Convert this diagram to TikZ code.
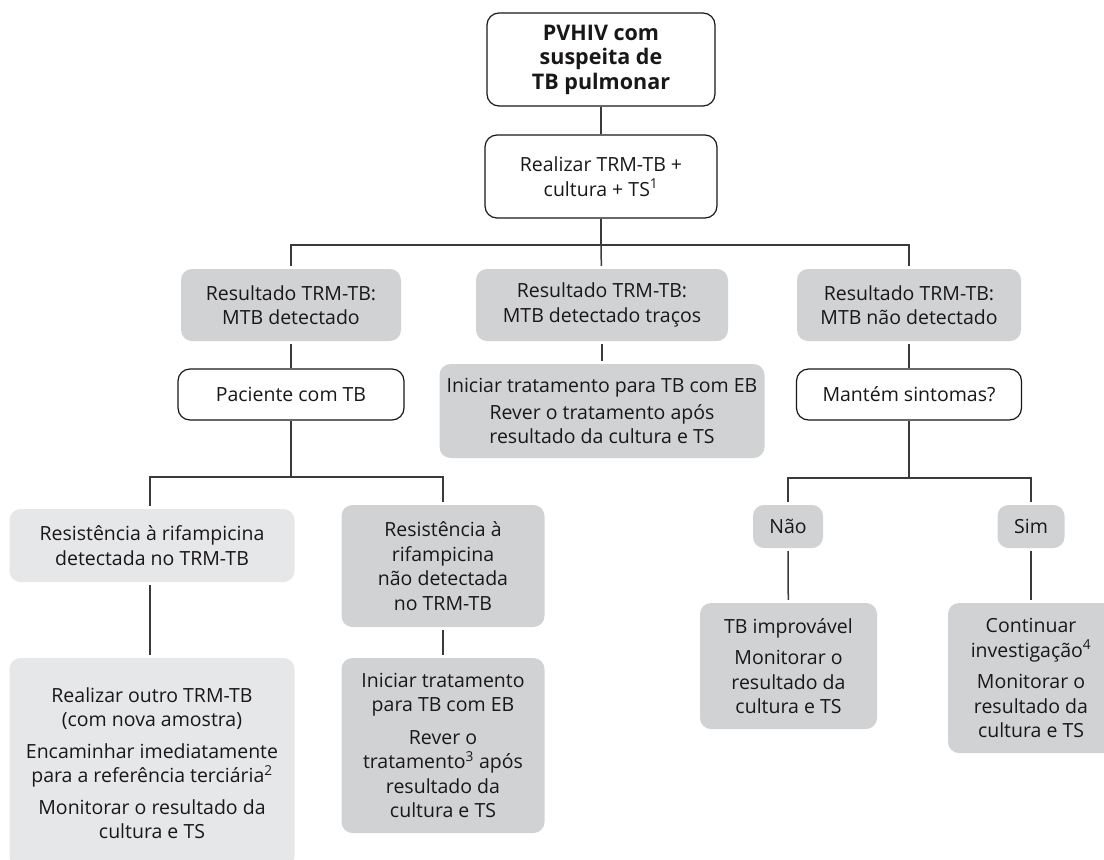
\documentclass[tikz,border=0pt]{standalone}
\usepackage{fontspec}
\setmainfont{Open Sans}
\begin{document}
\definecolor{ink}{HTML}{1A1718}
\definecolor{wire}{HTML}{3A3A3A}
\definecolor{boxdark}{HTML}{D1D2D4}
\definecolor{boxlight}{HTML}{E6E7E8}
\begin{tikzpicture}[x=1pt,y=-1pt,
  every node/.style={font=\fontsize{19.5}{24.5}\selectfont, text=ink, align=center, inner sep=0pt},
  whitebox/.style={draw=ink, line width=1.2pt, fill=white, rounded corners=12pt},
  darkbox/.style={fill=boxdark, rounded corners=11pt},
  lightbox/.style={fill=boxlight, rounded corners=11pt},
  wireline/.style={draw=wire, line width=1.5pt},
  gapin/.style={shorten >=3pt},
  gapout/.style={shorten <=3pt},
  gapboth/.style={shorten >=3pt, shorten <=3pt}]
\useasboundingbox (0,0) rectangle (1104,860);

% top of the chart
\node[whitebox, minimum width=228pt, minimum height=93pt, font=\fontsize{21.5}{24.5}\selectfont\bfseries]
  (start) at (601,59.5) {PVHIV com\\suspeita de\\TB pulmonar};
\node[whitebox, minimum width=232pt, minimum height=83pt]
  (test) at (601,176.5) {Realizar TRM-TB +\\cultura + TS\textsuperscript{1}};

% three test outcomes
\node[darkbox, minimum width=220pt, minimum height=72pt] (pos) at (291,305)
  {Resultado TRM-TB:\\MTB detectado};
\node[darkbox, minimum width=252pt, minimum height=72pt] (trace) at (602,305)
  {Resultado TRM-TB:\\MTB detectado traços};
\node[darkbox, minimum width=224pt, minimum height=72pt] (neg) at (909,305)
  {Resultado TRM-TB:\\MTB não detectado};

% second level
\node[whitebox, minimum width=226pt, minimum height=51pt] (patient) at (291,394.5)
  {Paciente com TB};
\node[darkbox, minimum width=325pt, minimum height=94pt] (tracetx) at (602,411)
  {Iniciar tratamento para TB com EB\\[2pt]Rever o tratamento após\\resultado da cultura e TS};
\node[whitebox, minimum width=225pt, minimum height=51pt] (symptoms) at (909,394.5)
  {Mantém sintomas?};

% rifampicin branches
\node[lightbox, minimum width=285pt, minimum height=73pt] (rifyes) at (152,545.5)
  {Resistência à rifampicina\\detectada no TRM-TB};
\node[darkbox, minimum width=203pt, minimum height=122pt] (rifno) at (443,566)
  {Resistência à\\rifampicina\\não detectada\\no TRM-TB};
\node[lightbox, minimum width=285pt, minimum height=210pt] (rifyestx) at (152,763)
  {Realizar outro TRM-TB\\(com nova amostra)\\[7pt]Encaminhar imediatamente\\para a referência terciária\textsuperscript{2}\\[7pt]Monitorar o resultado da\\cultura e TS};
\node[darkbox, minimum width=203pt, minimum height=175pt] (rifnotx) at (443,745.5)
  {Iniciar tratamento\\para TB com EB\\[8pt]Rever o\\tratamento\textsuperscript{3} após\\resultado da\\cultura e TS};

% symptom branches
\node[darkbox, minimum width=70pt, minimum height=43pt] (no) at (788,526.5) {Não};
\node[darkbox, minimum width=67pt, minimum height=43pt] (yes) at (1031,526.5) {Sim};
\node[darkbox, minimum width=177pt, minimum height=126pt] (unlikely) at (788.5,666)
  {TB improvável\\[7pt]Monitorar o\\resultado da\\cultura e TS};
\node[darkbox, minimum width=166pt, minimum height=150pt] (goon) at (1031,678)
  {Continuar\\investigação\textsuperscript{4}\\[7pt]Monitorar o\\resultado da\\cultura e TS};

% junction points
\coordinate (j1) at (601,245);
\coordinate (j2) at (291,477);
\coordinate (j3) at (909,478);

% connectors
\draw[wireline] (start) -- (test);
\draw[wireline] (test) -- (j1);
\draw[wireline, gapin] (j1) -| (pos);
\draw[wireline, gapin] (j1) -- (trace);
\draw[wireline, gapin] (j1) -| (neg);
\draw[wireline, gapout] (pos) -- (patient);
\draw[wireline, gapboth] (trace) -- (tracetx);
\draw[wireline, gapout] (neg) -- (symptoms);
\draw[wireline] (patient) -- (j2);
\draw[wireline, gapin] (j2) -| ([xshift=-2pt]rifyes.north);
\draw[wireline, gapin] (j2) -| (rifno);
\draw[wireline, gapboth] ([xshift=-2pt]rifyes.south) -- ([xshift=-2pt]rifyestx.north);
\draw[wireline, gapboth] (rifno) -- (rifnotx);
\draw[wireline] (symptoms) -- (j3);
\draw[wireline, gapin] (j3) -| (no);
\draw[wireline, gapin] (j3) -| (yes);
\draw[wireline, gapboth] (no) -- (unlikely);
\draw[wireline, gapboth] (yes) -- (goon);
\end{tikzpicture}
\end{document}
